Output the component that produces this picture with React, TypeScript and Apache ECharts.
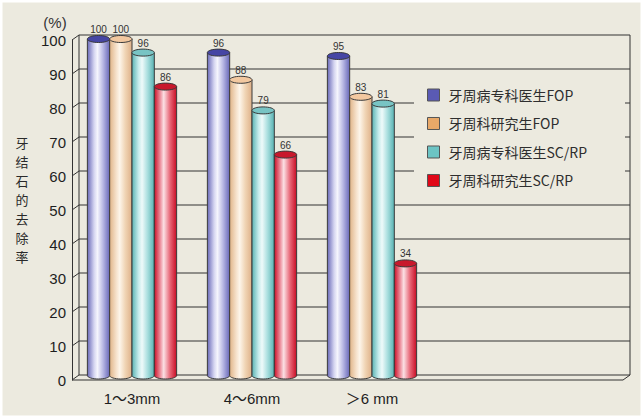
import React, { useEffect, useRef } from "react";
import * as echarts from "echarts";

const categories = ["1～3mm", "4～6mm", "＞6 mm"];
const seriesNames = ["牙周病专科医生FOP", "牙周科研究生FOP", "牙周病专科医生SC/RP", "牙周科研究生SC/RP"];
const specialistFOP = [100, 96, 95];
const graduateFOP = [100, 88, 83];
const specialistSCRP = [96, 79, 81];
const graduateSCRP = [86, 66, 34];
const yTicks = [0, 10, 20, 30, 40, 50, 60, 70, 80, 90, 100];
const yTitleChars = ["牙", "结", "石", "的", "去", "除", "率"];

const FONT = "'Liberation Sans', 'Noto Sans CJK SC', sans-serif";
const CJK = "'Noto Sans CJK SC', 'Liberation Sans', sans-serif";

const palettes = [
  {
    legend: "#5a5ab4",
    cap: "#4646a4",
    stops: [
      [0, "#6a6ab8"],
      [0.3, "#d4d4f0"],
      [0.45, "#f6f6fd"],
      [0.7, "#b8b8e4"],
      [1, "#6868b8"],
    ],
  },
  {
    legend: "#e8a868",
    cap: "#f2c8a0",
    stops: [
      [0, "#e0b488"],
      [0.3, "#f6e2cc"],
      [0.45, "#fdf5ea"],
      [0.7, "#f0d4b4"],
      [1, "#deb088"],
    ],
  },
  {
    legend: "#6cc4c4",
    cap: "#78c4c4",
    stops: [
      [0, "#5ab4b4"],
      [0.3, "#c8ecec"],
      [0.45, "#eefafa"],
      [0.7, "#a8dede"],
      [1, "#58b2b2"],
    ],
  },
  {
    legend: "#e00818",
    cap: "#c8182c",
    stops: [
      [0, "#cc1028"],
      [0.3, "#f0a0ac"],
      [0.42, "#fbe0e4"],
      [0.7, "#e86878"],
      [1, "#c80c24"],
    ],
  },
];

const seriesData = [specialistFOP, graduateFOP, specialistSCRP, graduateSCRP];
const DX = 7;
const DY = 5;
const OUTLINE = "#3a3a3a";

function makeBarRender(idx: number) {
  const pal = palettes[idx];
  return (params: any, api: any) => {
    const ci = api.value(0);
    const v = api.value(1);
    const top = api.coord([ci, v]);
    const base = api.coord([ci, 0]);
    const band = api.size([1, 0])[0];
    const w = band * 0.186;
    const cx = top[0] + (idx - 1.5) * w;
    const ry = 3.5;
    const yTop = top[1] - 1;
    const y0 = base[1] - 1;
    const grad = new echarts.graphic.LinearGradient(
      0,
      0,
      1,
      0,
      pal.stops.map((s) => ({ offset: s[0] as number, color: s[1] as string }))
    );
    return {
      type: "group",
      children: [
        {
          type: "ellipse",
          shape: { cx, cy: y0 - ry, rx: w / 2, ry },
          style: { fill: grad, stroke: OUTLINE, lineWidth: 1 },
        },
        {
          type: "rect",
          shape: { x: cx - w / 2, y: yTop, width: w, height: y0 - ry - yTop },
          style: { fill: grad },
        },
        {
          type: "line",
          shape: { x1: cx - w / 2, y1: yTop, x2: cx - w / 2, y2: y0 - ry },
          style: { stroke: OUTLINE, lineWidth: 1 },
        },
        {
          type: "line",
          shape: { x1: cx + w / 2, y1: yTop, x2: cx + w / 2, y2: y0 - ry },
          style: { stroke: OUTLINE, lineWidth: 1 },
        },
        {
          type: "ellipse",
          shape: { cx, cy: yTop, rx: w / 2, ry },
          style: { fill: pal.cap, stroke: OUTLINE, lineWidth: 1 },
        },
        {
          type: "text",
          style: {
            text: String(v),
            x: cx,
            y: yTop - ry - 1,
            align: "center",
            verticalAlign: "bottom",
            fontSize: 10,
            fill: "#333",
            fontFamily: FONT,
          },
        },
      ],
    };
  };
}

function frameRender(params: any, api: any) {
  const v = api.value(1);
  const p = api.coord([0, v]);
  const band = api.size([1, 0])[0];
  const xL = p[0] - band / 2;
  const y = p[1];
  const W = api.getWidth();
  const xR = W - 13;
  const y0 = api.coord([0, 0])[1];
  const st = { stroke: "#333", lineWidth: 1 };
  const children: any[] = [
    { type: "line", shape: { x1: xL, y1: y, x2: xL + DX, y2: y - DY }, style: st },
    { type: "line", shape: { x1: xL + DX, y1: y - DY, x2: xR, y2: y - DY }, style: st },
  ];
  if (v === yTicks[0]) {
    children.push({ type: "line", shape: { x1: xL, y1: y, x2: xR - DX, y2: y }, style: st });
    children.push({ type: "line", shape: { x1: xR - DX, y1: y, x2: xR, y2: y - DY }, style: st });
  }
  if (v === yTicks[yTicks.length - 1]) {
    children.push({ type: "line", shape: { x1: xL + DX, y1: y - DY, x2: xL + DX, y2: y0 - DY }, style: st });
    children.push({ type: "line", shape: { x1: xR, y1: y - DY, x2: xR, y2: y0 - DY }, style: st });
  }
  return { type: "group", children };
}

export default function App() {
  const ref = useRef<HTMLDivElement>(null);
  useEffect(() => {
    if (!ref.current) return;
    const chart = echarts.init(ref.current, null, { renderer: "svg" });
    const option: any = {
      animation: false,
      backgroundColor: "#eceadf",
      grid: { left: 72, right: 211, top: 40, bottom: 38, containLabel: false },
      xAxis: {
        type: "category",
        data: categories,
        axisLine: { show: false },
        axisTick: { show: false },
        axisLabel: { fontSize: 15, color: "#1e1e1e", margin: 11, fontFamily: FONT },
        splitLine: { show: false },
      },
      yAxis: {
        type: "value",
        min: 0,
        max: 100,
        interval: 10,
        axisLine: { show: true, lineStyle: { color: "#333", width: 1 } },
        axisTick: { show: false },
        splitLine: { show: false },
        axisLabel: { fontSize: 15, color: "#1e1e1e", margin: 6, fontFamily: FONT },
      },
      legend: {
        orient: "vertical",
        left: 414,
        top: 76,
        padding: [12, 10, 10, 13],
        itemGap: 14.5,
        itemWidth: 12,
        itemHeight: 12,
        icon: "rect",
        z: 5,
        textStyle: { fontSize: 14, color: "#2e2e2e", fontFamily: CJK, padding: [0, 0, 0, 4] },
        data: seriesNames.map((n, i) => ({
          name: n,
          itemStyle: { color: palettes[i].legend, borderColor: "#555", borderWidth: 1 },
        })),
      },
      graphic: [
        {
          type: "rect",
          z: 3,
          shape: { x: 414, y: 76, width: 211, height: 120 },
          style: { fill: "#eceadf" },
        },
        ...yTitleChars.map((ch, k) => ({
          type: "text",
          z: 3,
          style: {
            text: ch,
            x: 22,
            y: 142.5 + k * 19,
            align: "center",
            verticalAlign: "middle",
            fontSize: 13,
            fill: "#2a2a2a",
            fontFamily: CJK,
          },
        })),
        {
          type: "text",
          z: 3,
          style: {
            text: "(%)",
            x: 55,
            y: 22,
            align: "center",
            verticalAlign: "middle",
            fontSize: 15,
            fill: "#333",
            fontFamily: FONT,
          },
        },
        {
          type: "rect",
          z: 10,
          silent: true,
          shape: { x: 0, y: 0, width: 643, height: 418 },
          style: { fill: "none", stroke: "#ffffff", lineWidth: 5 },
        },
      ],
      series: [
        {
          type: "custom",
          name: "frame",
          z: 1,
          clip: false,
          silent: true,
          renderItem: frameRender,
          encode: { x: 0, y: 1 },
          data: yTicks.map((v) => [0, v]),
        },
        ...seriesNames.map((n, i) => ({
          type: "custom",
          name: n,
          z: 2,
          clip: false,
          itemStyle: { color: palettes[i].legend },
          renderItem: makeBarRender(i),
          encode: { x: 0, y: 1 },
          data: seriesData[i].map((v, ci) => [ci, v]),
        })),
      ],
    };
    chart.setOption(option);
    return () => chart.dispose();
  }, []);
  return (
    <div
      ref={ref}
      style={{ position: "fixed", left: 0, top: 0, width: 643, height: 418 }}
    />
  );
}
